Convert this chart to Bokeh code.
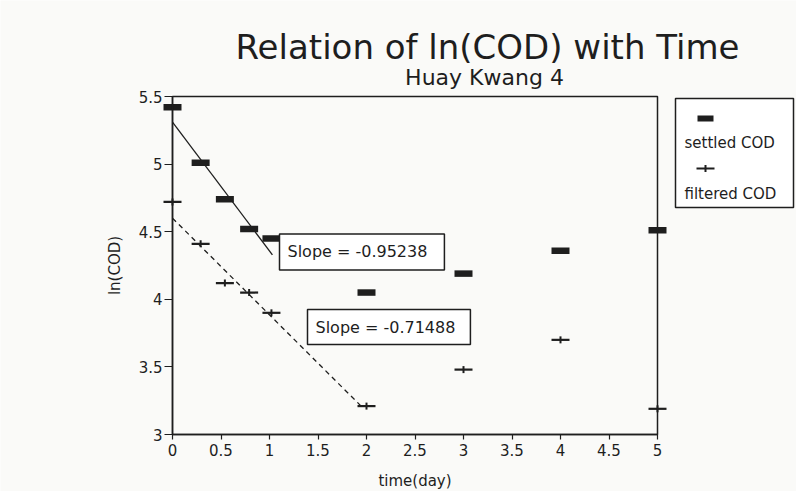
from bokeh.plotting import figure
from bokeh.models import Label, BoxAnnotation, FixedTicker, NumeralTickFormatter, Range1d
from bokeh.embed import file_html
from bokeh.resources import INLINE

# ln(COD) readings for Huay Kwang 4
time_day = [0, 0.29, 0.54, 0.79, 1.02, 2, 3, 4, 5]
ln_settled = [5.42, 5.01, 4.74, 4.52, 4.45, 4.05, 4.19, 4.36, 4.51]
ln_filtered = [4.72, 4.41, 4.12, 4.05, 3.90, 3.21, 3.48, 3.70, 3.19]

# first-order decay fits over the early part of the run
slope_settled = -0.95238
intercept_settled = 5.31
fit_span_settled = [0, 1.03]
slope_filtered = -0.71488
intercept_filtered = 4.60
fit_span_filtered = [0, 1.95]

x_ticks = [0, 0.5, 1, 1.5, 2, 2.5, 3, 3.5, 4, 4.5, 5]
y_ticks = [3, 3.5, 4, 4.5, 5, 5.5]

W, H = 796, 491
# page pixels of the plotting box
LEFT, RIGHT, TOP, BOTTOM = 172, 657, 96, 434
X0, X1, Y0, Y1 = 0, 5, 3, 5.5
INK = "#1e1e1e"
BG = "#fafaf8"
FONT = "DejaVu Sans"


def px(sx):
    """page x pixel -> data x"""
    return X0 + (sx - LEFT) * (X1 - X0) / (RIGHT - LEFT)


def py(sy):
    """page y pixel -> data y"""
    return Y1 - (sy - TOP) * (Y1 - Y0) / (BOTTOM - TOP)


# the frame covers the whole page so that titles and legend can sit anywhere;
# the axes are pinned to x=0 and y=3
p = figure(width=W, height=H, x_range=Range1d(px(0), px(W)), y_range=Range1d(py(H), py(0)),
           output_backend="svg", toolbar_location=None,
           min_border_left=0, min_border_right=0, min_border_top=0, min_border_bottom=0,
           background_fill_color=BG, border_fill_color=BG)
p.grid.visible = False
p.outline_line_color = None

for ax in (p.xaxis[0], p.yaxis[0]):
    ax.axis_line_color = INK
    ax.axis_line_width = 1.5
    ax.major_tick_line_color = INK
    ax.major_tick_line_width = 1.2
    ax.minor_tick_line_color = None
    ax.major_tick_in = 0
    ax.major_label_text_font = FONT
    ax.major_label_text_font_size = "15px"
    ax.major_label_text_color = INK
    ax.axis_label_text_font = FONT
    ax.axis_label_text_font_size = "15px"
    ax.axis_label_text_font_style = "normal"
    ax.axis_label_text_color = INK
    ax.formatter = NumeralTickFormatter(format="0.[0]")

p.xaxis.fixed_location = Y0
p.yaxis.fixed_location = X0
p.xaxis.bounds = (X0, X1)
p.yaxis.bounds = (Y0, Y1)
p.xaxis.ticker = FixedTicker(ticks=x_ticks)
p.yaxis.ticker = FixedTicker(ticks=y_ticks)
p.xaxis.major_tick_out = 5
p.xaxis.major_label_standoff = 4
p.yaxis.major_tick_out = 8
p.yaxis.major_label_standoff = 2
p.xaxis.axis_label = "time(day)"
p.yaxis.axis_label = "ln(COD)"
p.xaxis.axis_label_standoff = 13
p.yaxis.axis_label_standoff = 12

# top and right edges of the plotting box
p.add_layout(BoxAnnotation(left=X0, right=X1, bottom=Y0, top=Y1, fill_alpha=0,
                           line_color=INK, line_alpha=1, line_width=1.5))

# fitted lines, drawn from the stated slopes
p.line(fit_span_settled, [intercept_settled + slope_settled * t for t in fit_span_settled],
       line_color=INK, line_width=1.3)
p.line(fit_span_filtered, [intercept_filtered + slope_filtered * t for t in fit_span_filtered],
       line_color=INK, line_width=1.3, line_dash="5 4")

# settled COD: thick bars
p.rect(time_day, ln_settled, width=18, height=6.5, width_units="screen", height_units="screen",
       fill_color=INK, line_color=None)
# filtered COD: dash with a short vertical tick
p.rect(time_day, ln_filtered, width=18, height=2.2, width_units="screen", height_units="screen",
       fill_color=INK, line_color=None)
p.rect(time_day, ln_filtered, width=2, height=7, width_units="screen", height_units="screen",
       fill_color=INK, line_color=None)

# titles
p.add_layout(Label(x=px(487), y=py(46), text="Relation of ln(COD) with Time",
                   text_font=FONT, text_font_size="34px", text_color=INK,
                   text_align="center", text_baseline="alphabetic"))
p.add_layout(Label(x=px(484), y=py(77), text="Huay Kwang 4",
                   text_font=FONT, text_font_size="22px", text_color=INK,
                   text_align="center", text_baseline="alphabetic"))

# slope boxes
for sx, sy, txt, pad in ((279, 251.5, "Slope = -0.95238", (8, 17, 8, 9)),
                         (307, 326.5, "Slope = -0.71488", (8, 15, 8, 8))):
    p.add_layout(Label(x=px(sx), y=py(sy), text=txt, text_font=FONT, text_font_size="16px",
                       text_color=INK, text_align="left", text_baseline="middle",
                       background_fill_color="white", border_line_color=INK,
                       border_line_width=1.5, padding=pad))

# legend
p.add_layout(BoxAnnotation(left=px(675), right=px(793), top=py(98), bottom=py(207),
                           fill_color="white", fill_alpha=1, line_color=INK, line_alpha=1,
                           line_width=1.5))
p.add_layout(BoxAnnotation(left=px(697), right=px(713), top=py(115), bottom=py(121),
                           fill_color=INK, fill_alpha=1, line_color=None))
p.add_layout(BoxAnnotation(left=px(696), right=px(714), top=py(166.9), bottom=py(169.1),
                           fill_color=INK, fill_alpha=1, line_color=None))
p.add_layout(BoxAnnotation(left=px(704), right=px(706), top=py(164.5), bottom=py(171.5),
                           fill_color=INK, fill_alpha=1, line_color=None))
for sy, txt in ((142, "settled COD"), (193, "filtered COD")):
    p.add_layout(Label(x=px(684), y=py(sy), text=txt, text_font=FONT, text_font_size="15px",
                       text_color=INK, text_align="left", text_baseline="middle"))

open("out.html", "w").write(file_html(p, INLINE))
